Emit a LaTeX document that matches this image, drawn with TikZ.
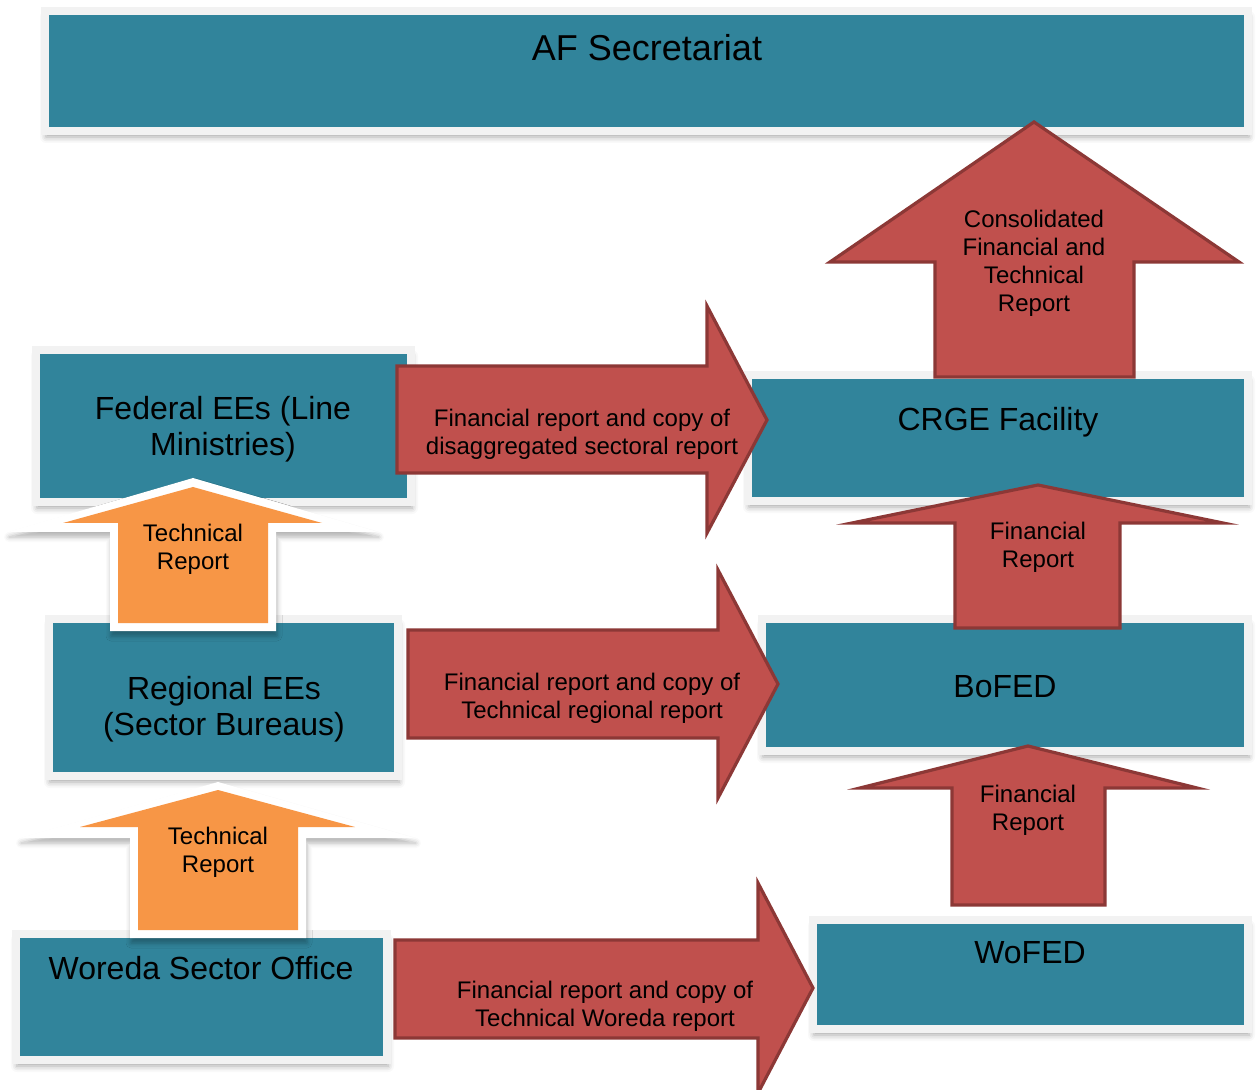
\documentclass[tikz,border=0pt]{standalone}
\usepackage{fontspec}
\setmainfont{Liberation Sans}
\usetikzlibrary{shadows.blur}
\definecolor{boxteal}{HTML}{31849B}
\definecolor{boxframe}{HTML}{F2F2F2}
\definecolor{redfill}{HTML}{C0504D}
\definecolor{redline}{HTML}{8C3836}
\definecolor{orangefill}{HTML}{F79646}

\begin{document}
\begin{tikzpicture}[x=0.5pt,y=-0.5pt,
  box/.style={fill=boxteal,draw=boxframe,line width=4pt,
    blur shadow={shadow xshift=0.5pt,shadow yshift=-3pt,shadow blur radius=3pt,shadow opacity=35}},
  redarrow/.style={fill=redfill,draw=redline,line width=1.6pt},
  whiteedge/.style={fill=white,
    blur shadow={shadow xshift=0.5pt,shadow yshift=-2.5pt,shadow blur radius=2.5pt,shadow opacity=30}},
  orangearrow/.style={fill=orangefill},
  bigtext/.style={font=\fontsize{16}{18}\selectfont,align=center,inner sep=0pt},
  smalltext/.style={font=\fontsize{12}{14}\selectfont,align=center,inner sep=0pt}]
  \useasboundingbox (0,0) rectangle (1258,1090);

  \draw[box] (45,11) rectangle (1248,131);
  \draw[box] (36,350) rectangle (411,502);
  \draw[box] (49,619) rectangle (398,776);
  \draw[box] (16,934) rectangle (387,1060);
  \draw[box] (748,375) rectangle (1248,501);
  \draw[box] (762,619) rectangle (1248,751);
  \draw[box] (813,920) rectangle (1248,1029);

  \node[bigtext,font=\fontsize{18}{20}\selectfont] (af) at (647,48) {AF Secretariat};
  \node[bigtext] (federal) at (223,429) {Federal EEs (Line\\Ministries)};
  \node[bigtext] (regional) at (224,709) {Regional EEs\\(Sector Bureaus)};
  \node[bigtext] (woreda) at (201,968) {Woreda Sector Office};
  \node[bigtext] (crge) at (998,422) {CRGE Facility};
  \node[bigtext] (bofed) at (1005,687) {BoFED};
  \node[bigtext] (wofed) at (1030,953) {WoFED};

  \draw[redarrow] (397,366) -- (707,366) -- (707,306) -- (767,420) -- (707,533) -- (707,473) -- (397,473) -- cycle;
  \draw[redarrow] (408,630) -- (718,630) -- (718,570) -- (778,684) -- (718,798) -- (718,738) -- (408,738) -- cycle;
  \draw[redarrow] (395,940) -- (758,940) -- (758,883) -- (813,988) -- (758,1093) -- (758,1038) -- (395,1038) -- cycle;

  \draw[redarrow] (1034,122) -- (1239,262) -- (1134,262) -- (1134,377) -- (935,377) -- (935,262) -- (830,262) -- cycle;
  \draw[redarrow] (1038,485) -- (1223,523) -- (1120,523) -- (1120,628) -- (955,628) -- (955,523) -- (852,523) -- cycle;
  \draw[redarrow] (1028,746) -- (1197,788) -- (1105,788) -- (1105,905) -- (952,905) -- (952,788) -- (860,788) -- cycle;

  \fill[whiteedge] (193,478) -- (378,532) -- (276,532) -- (276,631) -- (110,631) -- (110,532) -- (8,532) -- cycle;
  \fill[orangearrow] (193,487) -- (322,523) -- (268,523) -- (268,623) -- (118,623) -- (118,523) -- (63,523) -- cycle;
  \fill[whiteedge] (218,782) -- (415,838) -- (306,838) -- (306,938) -- (130,938) -- (130,838) -- (20,838) -- cycle;
  \fill[orangearrow] (218,790) -- (355,827) -- (298,827) -- (298,930) -- (138,930) -- (138,827) -- (80,827) -- cycle;

  \node[smalltext] (fedrep) at (582,434) {Financial report and copy of\\disaggregated sectoral report};
  \node[smalltext] (regrep) at (592,698) {Financial report and copy of\\Technical regional report};
  \node[smalltext] (worrep) at (605,1006) {Financial report and copy of\\Technical Woreda report};
  \node[smalltext] (consrep) at (1034,263) {Consolidated\\Financial and\\Technical\\Report};
  \node[smalltext] (bofedrep) at (1038,547) {Financial\\Report};
  \node[smalltext] (wofedrep) at (1028,810) {Financial\\Report};
  \node[smalltext] (techfed) at (193,549) {Technical\\Report};
  \node[smalltext] (techreg) at (218,852) {Technical\\Report};
\end{tikzpicture}
\end{document}
